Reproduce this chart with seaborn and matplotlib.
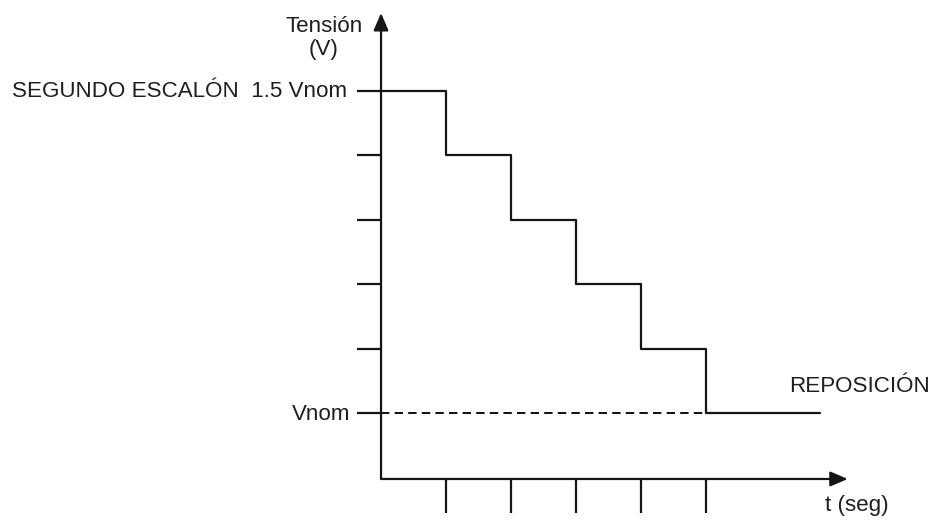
import numpy as np
import pandas as pd
import matplotlib
matplotlib.use("Agg")
import matplotlib.pyplot as plt
import seaborn as sns

# Voltage levels (multiples of Vnom) and the instants at which each step starts
levels = [1.5, 1.4, 1.3, 1.2, 1.1, 1.0]
step_times = [0, 1, 2, 3, 4, 5]
end_time = 6.75
x_tick_times = [1, 2, 3, 4, 5]
y_tick_levels = [1.5, 1.4, 1.3, 1.2, 1.1, 1.0]

label_top = "SEGUNDO ESCALÓN  1.5 Vnom"
label_nom = "Vnom"
label_reset = "REPOSICIÓN"
y_title = ["Tensión", "(V)"]
x_title = "t (seg)"

sns.set_theme(style="white")
plt.rcParams["font.family"] = ["Liberation Sans", "DejaVu Sans"]

fig = plt.figure(figsize=(9.36, 5.22), dpi=100)
ax = fig.add_axes([0, 0, 1, 1])
ax.set_axis_off()
ax.set_xlim(-5.862, 8.538)
ax.set_ylim(0.8307, 1.6413)

ink = "#151515"
txt = "#1e1e1e"
lw = 1.6

# staircase
df = pd.DataFrame({"t": step_times + [end_time], "v": levels + [levels[-1]]})
sns.lineplot(data=df, x="t", y="v", drawstyle="steps-post", color=ink,
             linewidth=lw, ax=ax, legend=False)

# nominal reference (dashed)
nom = levels[-1]
ax.plot([0, step_times[-1]], [nom, nom], color=ink, lw=lw * 0.9,
        dashes=(4.2, 2.6))

# axes with arrow heads
y0_axis = 0.8975
arrow_style = "-|>,head_length=1.05,head_width=0.45"
ax.annotate("", xy=(0, 1.6211), xytext=(0, y0_axis),
            arrowprops=dict(arrowstyle=arrow_style, lw=lw, color=ink,
                            shrinkA=0, shrinkB=0, mutation_scale=10))
ax.annotate("", xy=(7.18, y0_axis), xytext=(0, y0_axis),
            arrowprops=dict(arrowstyle=arrow_style, lw=lw, color=ink,
                            shrinkA=0, shrinkB=0, mutation_scale=10))

# tick marks
for lv in y_tick_levels:
    ax.plot([-0.369, 0], [lv, lv], color=ink, lw=lw, solid_capstyle="butt")
for tt in x_tick_times:
    ax.plot([tt, tt], [y0_axis, 0.8447], color=ink, lw=lw, solid_capstyle="butt")

fs = 16.1
ax.text(-0.52, 1.4907, label_top, ha="right", va="baseline", fontsize=fs, color=txt)
ax.text(-0.477, 0.989, label_nom, ha="right", va="baseline", fontsize=fs, color=txt)
ax.text(6.277, 1.0326, label_reset, ha="left", va="baseline", fontsize=fs, color=txt)
ax.text(-0.877, 1.5916, y_title[0], ha="center", va="baseline", fontsize=fs, color=txt)
ax.text(-0.877, 1.5559, y_title[1], ha="center", va="baseline", fontsize=fs, color=txt)
ax.text(6.83, 0.8478, x_title, ha="left", va="baseline", fontsize=fs, color=txt)

fig.savefig("out.png", dpi=100)
